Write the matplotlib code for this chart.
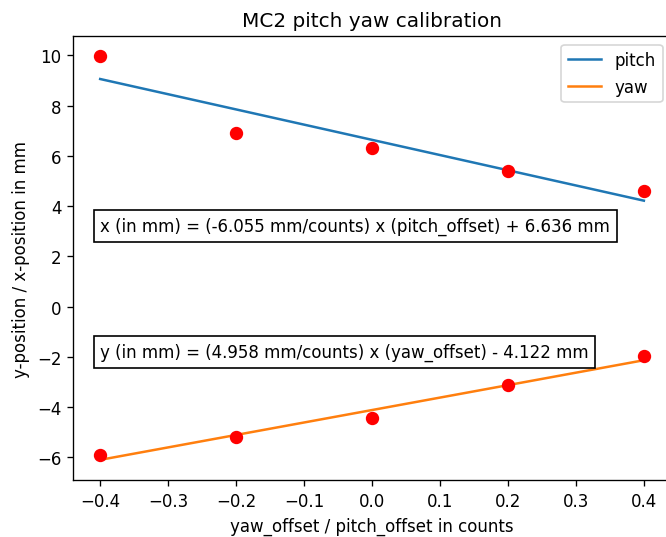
import numpy as np
import matplotlib
matplotlib.use('Agg')
import matplotlib.pyplot as plt

offsets = [-0.4, -0.2, 0.0, 0.2, 0.4]
pitch_pos = [9.96, 6.9, 6.31, 5.41, 4.6]
yaw_pos = [-5.92, -5.19, -4.42, -3.14, -1.99]

pitch_slope, pitch_icpt = -6.055, 6.636
yaw_slope, yaw_icpt = 4.958, -4.122

fig = plt.figure(figsize=(5.55, 4.4833), dpi=120)
ax = fig.add_axes([0.1096, 0.1059, 0.898, 0.825])

x = np.array(offsets)
ax.plot(x, pitch_slope * x + pitch_icpt, label='pitch')
ax.plot(x, yaw_slope * x + yaw_icpt, label='yaw')
ax.plot(offsets, pitch_pos, 'ro', ms=7)
ax.plot(offsets, yaw_pos, 'ro', ms=7)

ax.text(-0.4, 3, 'x (in mm) = (%.3f mm/counts) x (pitch_offset) + %.3f mm' % (pitch_slope, pitch_icpt),
        bbox=dict(facecolor='white', edgecolor='black'))
ax.text(-0.4, -2, 'y (in mm) = (%.3f mm/counts) x (yaw_offset) - %.3f mm' % (yaw_slope, -yaw_icpt),
        bbox=dict(facecolor='white', edgecolor='black'))

ax.set_title('MC2 pitch yaw calibration')
ax.set_xlabel('yaw_offset / pitch_offset in counts')
ax.set_ylabel('y-position / x-position in mm')
ax.legend(loc='upper right')

fig.savefig('out.png')
